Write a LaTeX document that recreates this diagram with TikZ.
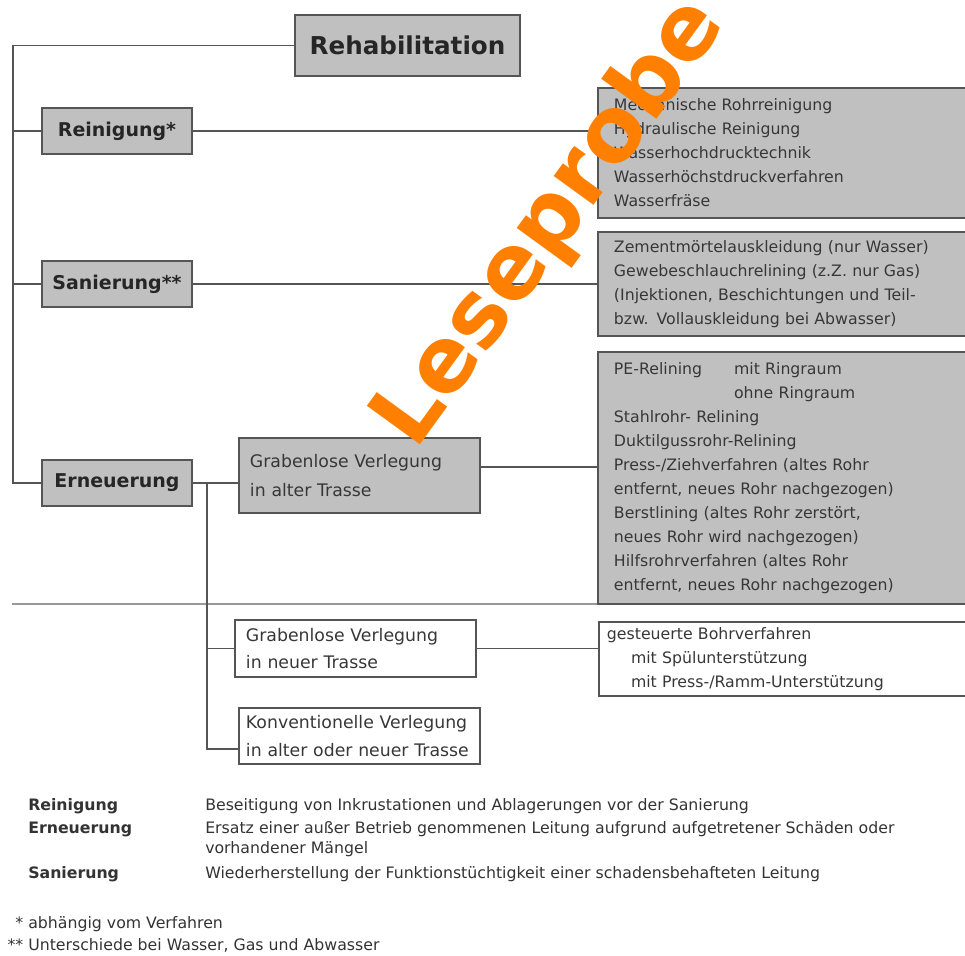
\documentclass[tikz,border=0pt]{standalone}
\usepackage{fontspec}
\setmainfont{DejaVu Sans}
\definecolor{boxgray}{RGB}{192,192,192}
\definecolor{linegray}{RGB}{85,85,85}
\definecolor{textgray}{RGB}{55,55,55}
\definecolor{leseorange}{RGB}{255,128,0}

\begin{document}
\begin{tikzpicture}[x=0.025cm, y=-0.025cm,
    conn/.style={draw=linegray, line width=1.4pt},
    head/.style={draw=linegray, line width=1.4pt, fill=boxgray, text=black!85, minimum width=3.75cm, minimum height=1.15cm, font=\bfseries\fontsize{13.5}{16}\selectfont},
    list/.style={draw=linegray, line width=1.4pt, fill=boxgray, text=textgray, anchor=north west, align=left, text width=8.8cm, inner xsep=0.4cm, font=\fontsize{11.2}{17.07}\selectfont},
    route/.style={draw=linegray, line width=1.4pt, text=textgray, align=left, minimum width=6.025cm, font=\fontsize{12.3}{19.5}\selectfont},
    legend/.style={anchor=base west, inner sep=0, text=black!80, font=\fontsize{11.2}{15}\selectfont}]
    \useasboundingbox (0,0) rectangle (965,955);
    \clip (0,0) rectangle (965,955);

    \draw[line width=1.4pt, black!40] (12,604) -- (975,604);

    \node[head, minimum width=5.625cm, minimum height=1.525cm, font=\bfseries\fontsize{17.5}{20}\selectfont] (0) at (407.5,45.5) {Rehabilitation};
    \node[head] (1) at (117,131) {Reinigung*};
    \node[head] (2) at (117,284) {Sanierung**};
    \node[head] (3) at (117,483) {Erneuerung};

    \node[list, minimum height=3.25cm] (4) at (597,87) {Mechanische Rohrreinigung\\Hydraulische Reinigung\\Wasserhochdrucktechnik\\Wasserhöchstdruckverfahren\\Wasserfräse};
    \node[list, minimum height=2.6cm] (5) at (597,231) {Zementmörtelauskleidung (nur Wasser)\\Gewebeschlauchrelining (z.Z. nur Gas)\\(Injektionen, Beschichtungen und Teil-\\bzw. Vollauskleidung bei Abwasser)};
    \node[list, minimum height=6.3cm] (6) at (597,351) {\makebox[3cm][l]{PE-Relining}mit Ringraum\\\hspace*{3cm}ohne Ringraum\\Stahlrohr- Relining\\Duktilgussrohr-Relining\\Press-/Ziehverfahren (altes Rohr\\entfernt, neues Rohr nachgezogen)\\Berstlining (altes Rohr zerstört,\\neues Rohr wird nachgezogen)\\Hilfsrohrverfahren (altes Rohr\\entfernt, neues Rohr nachgezogen)};

    \node[route, fill=boxgray, minimum height=1.875cm, text width=5.475cm, inner xsep=0.275cm, font=\fontsize{12.3}{20}\selectfont] (7) at (359.5,475.5) {Grabenlose Verlegung\\in alter Trasse};
    \node[route, minimum height=1.425cm, text width=5.475cm, inner xsep=0.275cm] (8) at (355.5,648.5) {Grabenlose Verlegung\\in neuer Trasse};
    \node[route, minimum height=1.4cm, text width=5.675cm, inner xsep=0.175cm] (9) at (359.5,736) {Konventionelle Verlegung\\in alter oder neuer Trasse};
    \node[list, fill=white, minimum height=1.85cm, inner xsep=0.2cm] (10) at (598,621) {gesteuerte Bohrverfahren\\\hspace*{0.6cm}mit Spülunterstützung\\\hspace*{0.6cm}mit Press-/Ramm-Unterstützung};

    \coordinate (t) at (13,483);
    \coordinate (b) at (207,482);
    \draw[conn] (0.west) -| (t) -- (3.west);
    \draw[conn] (1.west) -- (1.west -| t);
    \draw[conn] (2.west) -- (2.west -| t);
    \draw[conn] (1.east) -- (1.east -| 4.west);
    \draw[conn] (2.east) -- (2.east -| 5.west);
    \draw[conn] (3.east) -- (3.east -| 7.west);
    \draw[conn] (7.4) -- (7.4 -| 6.west);
    \draw[conn] (b) |- (8.west);
    \draw[conn] (b) |- (9.186);
    \draw[conn] (8.east) -- (8.east -| 10.west);

    \node[legend, font=\bfseries\fontsize{11.2}{15}\selectfont] (11) at (28,810) {Reinigung};
    \node[legend, font=\bfseries\fontsize{11.2}{15}\selectfont] (12) at (28,833) {Erneuerung};
    \node[legend, font=\bfseries\fontsize{11.2}{15}\selectfont] (13) at (28,878) {Sanierung};
    \node[legend] (14) at (205,810) {Beseitigung von Inkrustationen und Ablagerungen vor der Sanierung};
    \node[legend] (15) at (205,833) {Ersatz einer außer Betrieb genommenen Leitung aufgrund aufgetretener Schäden oder};
    \node[legend] (16) at (205,853) {vorhandener Mängel};
    \node[legend] (17) at (205,878) {Wiederherstellung der Funktionstüchtigkeit einer schadensbehafteten Leitung};
    \node[legend] (18) at (28,928) {\llap{*\ }abhängig vom Verfahren};
    \node[legend] (19) at (28,950) {\llap{**\ }Unterschiede bei Wasser, Gas und Abwasser};

    \node[rotate=54, anchor=base west, inner sep=0, text=leseorange, font=\bfseries\fontsize{64}{64}\selectfont] (20) at (415,452) {Leseprobe};
\end{tikzpicture}
\end{document}
